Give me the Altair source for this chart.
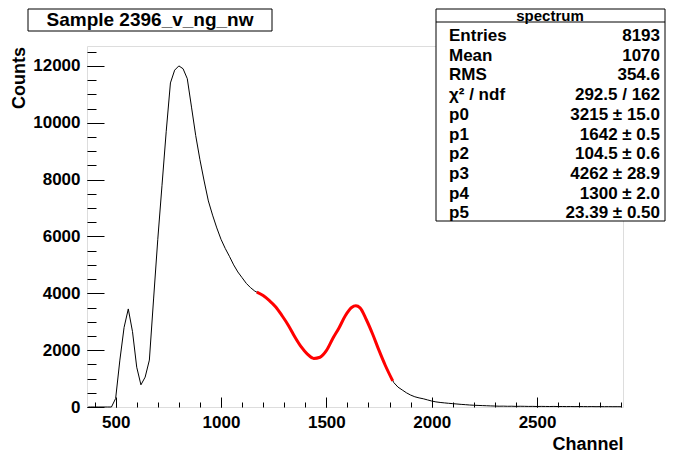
import altair as alt
import pandas as pd

# ---- data ----
channel = [370, 380, 400, 420, 440, 460, 480, 500, 520, 540, 560, 580, 600, 620, 640, 660, 680, 700, 720, 740,
           760, 780, 800, 820, 840, 860, 880, 900, 920, 940, 960, 980, 1000, 1020, 1040, 1060, 1080, 1100,
           1120, 1140, 1160, 1180, 1200, 1220, 1240, 1260, 1280, 1300, 1320, 1340, 1360, 1380, 1400, 1420,
           1440, 1460, 1480, 1500, 1520, 1540, 1560, 1580, 1600, 1620, 1640, 1660, 1680, 1700, 1720, 1740,
           1760, 1780, 1800, 1820, 1840, 1860, 1880, 1900, 1920, 1940, 1960, 1980, 2000, 2020, 2040, 2060,
           2080, 2100, 2120, 2140, 2160, 2180, 2200, 2220, 2240, 2260, 2280, 2300,
           2320, 2340, 2360, 2380, 2400, 2420, 2440, 2460, 2480, 2500, 2520, 2540, 2560, 2580, 2600, 2620,
           2640, 2660, 2680, 2700, 2720, 2740, 2760, 2780, 2800, 2820, 2840, 2860, 2880, 2900]
counts = [0, 0, 0, 0, 0, 0, 0, 300, 1650, 2800, 3450, 2650, 1400, 780, 1050, 1650, 3800, 5900, 7800, 9700,
          11400, 11850, 12000, 11900, 11550, 10550, 9550, 8700, 7950, 7250, 6750, 6300, 5900, 5580, 5300, 5000, 4750, 4550,
          4350, 4200, 4080, 4000, 3920, 3800, 3660, 3520, 3320, 3100, 2870, 2600, 2340, 2120, 1930, 1790,
          1710, 1720, 1820, 1980, 2280, 2520, 2780, 3080, 3330, 3500, 3560, 3490, 3250, 2880, 2560, 2180,
          1800, 1460, 1150, 860, 700, 600, 500, 420, 360, 320, 290, 250, 210, 180, 160, 145,
          130, 118, 105, 92, 82, 70, 62, 56, 50, 44, 38, 33,
          28, 30, 25, 27, 22, 26, 24, 20, 22, 18, 21, 19, 17, 20, 16, 18,
          15, 17, 14, 16, 15, 13, 15, 12, 14, 12, 13, 11, 12, 10]

fit_channel = [1170, 1200, 1230, 1260, 1290, 1320, 1350, 1380, 1410, 1440, 1470, 1500, 1530, 1560, 1590,
               1620, 1640, 1660, 1690, 1720, 1750, 1780, 1815]
fit_counts = [4040, 3920, 3740, 3520, 3210, 2870, 2470, 2120, 1860, 1710, 1750, 1980, 2400, 2780, 3210,
              3500, 3560, 3490, 3070, 2560, 1990, 1460, 920]

x_major = [500, 1000, 1500, 2000, 2500]
x_minor = list(range(400, 2901, 100))
y_major = [0, 2000, 4000, 6000, 8000, 10000, 12000]
y_minor = list(range(0, 12501, 500))

title_text = "Sample 2396_v_ng_nw"
y_title = "Counts"
stats_header = "spectrum"
stats_labels = ["Entries", "Mean", "RMS", "\u03c7\u00b2 / ndf", "p0", "p1", "p2", "p3", "p4", "p5"]
stats_values = ["8193", "1070", "354.6", "292.5 / 162", "3215 \u00b1 15.0", "1642 \u00b1 0.5",
                "104.5 \u00b1 0.6", "4262 \u00b1 28.9", "1300 \u00b1 2.0", "23.39 \u00b1 0.50"]

FONT = "Liberation Sans"
hist_df = pd.DataFrame({"ch": channel, "counts": counts})
fit_df = pd.DataFrame({"ch": fit_channel, "counts": fit_counts})
one = pd.DataFrame({"k": [0]})

xscale = alt.Scale(domain=[364, 2908], nice=False, zero=False)
yscale = alt.Scale(domain=[0, 12700], nice=False, zero=False)

major_x = alt.Axis(values=x_major, orient="bottom", tickSize=10, offset=-10, domain=False, grid=False,
                   format="d", tickColor="black", labelColor="black", labelFont=FONT, labelFontSize=17,
                   labelFontWeight="bold", labelPadding=7, labelFlush=False,
                   title="Channel", titleFont=FONT, titleFontSize=18, titleFontWeight="bold",
                   titleColor="black", titleAnchor="end", titleAlign="right", titlePadding=5)
minor_x = alt.Axis(values=x_minor, orient="bottom", tickSize=5, offset=-5, domain=False, grid=False,
                   tickColor="black", labels=False, title="")
major_y = alt.Axis(values=y_major, orient="left", tickSize=17, offset=-17, domain=False, grid=False,
                   format="d", tickColor="black", labelColor="black", labelFont=FONT, labelFontSize=17,
                   labelFontWeight="bold", labelPadding=7, title="")
minor_y = alt.Axis(values=y_minor, orient="left", tickSize=9, offset=-9, domain=False, grid=False,
                   tickColor="black", labels=False, title="")

hist = alt.Chart(hist_df).mark_line(interpolate="linear", color="black", strokeWidth=1).encode(
    x=alt.X("ch:Q", scale=xscale, axis=major_x),
    y=alt.Y("counts:Q", scale=yscale, axis=major_y),
)
minor = alt.Chart(hist_df).mark_line(opacity=0).encode(
    x=alt.X("ch:Q", scale=xscale, axis=minor_x),
    y=alt.Y("counts:Q", scale=yscale, axis=minor_y),
)
fit = alt.Chart(fit_df).mark_line(interpolate="monotone", color="#ff0000", strokeWidth=3).encode(
    x=alt.X("ch:Q", scale=xscale, axis=None),
    y=alt.Y("counts:Q", scale=yscale, axis=None),
)

# y axis title (rotated, top-aligned as in ROOT)
ytitle = alt.Chart(one).mark_text(font=FONT, fontSize=18, fontWeight="bold", color="black",
                                  angle=270, align="right", baseline="middle").encode(
    x=alt.value(-67), y=alt.value(1), text=alt.value(y_title))

# title box
title_box = alt.Chart(one).mark_rect(fill="white", stroke="black", strokeWidth=1).encode(
    x=alt.value(-59), x2=alt.value(185), y=alt.value(-37), y2=alt.value(-15))
title_mark = alt.Chart(one).mark_text(font=FONT, fontSize=19, fontWeight="bold", color="black",
                                       align="center", baseline="middle").encode(
    x=alt.value(63), y=alt.value(-26), text=alt.value(title_text))

# stats box
stats_box = alt.Chart(one).mark_rect(fill="white", stroke="black", strokeWidth=1).encode(
    x=alt.value(349), x2=alt.value(578), y=alt.value(-37), y2=alt.value(175))
stats_sep = alt.Chart(one).mark_rule(color="black", strokeWidth=1).encode(
    x=alt.value(349), x2=alt.value(578), y=alt.value(-24))
stats_head = alt.Chart(one).mark_text(font=FONT, fontSize=15, fontWeight="bold", color="black",
                                      align="center", baseline="middle").encode(
    x=alt.value(463), y=alt.value(-30.5), text=alt.value(stats_header))
stats_lab = alt.Chart(one).mark_text(font=FONT, fontSize=17, fontWeight="bold", color="black",
                                     align="left", baseline="alphabetic", lineBreak="\n",
                                     lineHeight=19.7).encode(
    x=alt.value(362), y=alt.value(-5), text=alt.value("\n".join(stats_labels)))
stats_val = alt.Chart(one).mark_text(font=FONT, fontSize=17, fontWeight="bold", color="black",
                                     align="right", baseline="alphabetic", lineBreak="\n",
                                     lineHeight=19.7).encode(
    x=alt.value(573), y=alt.value(-5), text=alt.value("\n".join(stats_values)))

chart = alt.layer(hist, minor, fit, ytitle, title_box, title_mark, stats_box, stats_sep, stats_head,
                  stats_lab, stats_val).resolve_axis(x="independent", y="independent").properties(
    width=536, height=361,
    autosize=alt.AutoSizeParams(type="none"),
    padding={"left": 79, "top": 38, "right": 43, "bottom": 46},
    background="white",
).configure_view(stroke="black", strokeWidth=1, fill="white").configure(font=FONT)

chart.save("out.html", embed_options={"renderer": "svg", "actions": False})
